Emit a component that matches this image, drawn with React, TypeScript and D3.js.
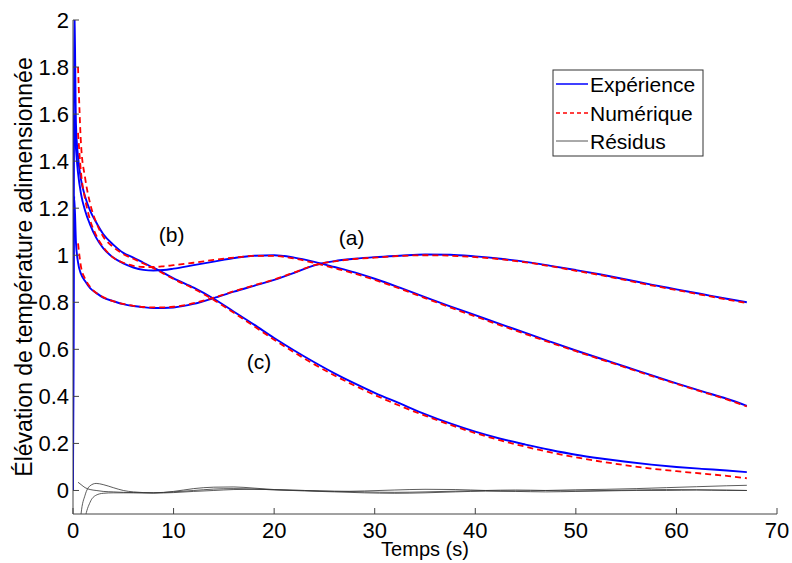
import React from "react";
import * as d3 from "d3";

// ---- data ----
const tExp = [0, 0.12, 0.3, 0.5, 0.8, 1.2, 1.7, 2.3, 3, 4, 5, 6, 7, 8, 9, 10, 12, 14, 16, 18, 20, 22, 24, 26, 28, 30, 32.5, 35, 37.5, 40, 42.5, 45, 47.5, 50, 52.5, 55, 57.5, 60, 62.5, 65, 67];
const expA = [0, 1.25, 1.05, 0.97, 0.92, 0.89, 0.86, 0.84, 0.82, 0.805, 0.792, 0.784, 0.779, 0.776, 0.776, 0.778, 0.793, 0.818, 0.845, 0.87, 0.895, 0.925, 0.957, 0.975, 0.985, 0.992, 0.998, 1.003, 1.002, 0.995, 0.985, 0.972, 0.955, 0.937, 0.918, 0.897, 0.875, 0.855, 0.835, 0.815, 0.8];
const expB = [0, 1.6, 1.45, 1.35, 1.26, 1.19, 1.13, 1.075, 1.03, 0.99, 0.965, 0.948, 0.938, 0.935, 0.937, 0.943, 0.958, 0.973, 0.988, 0.998, 1.0, 0.99, 0.972, 0.95, 0.927, 0.9, 0.862, 0.822, 0.783, 0.745, 0.707, 0.67, 0.632, 0.595, 0.56, 0.525, 0.49, 0.455, 0.422, 0.39, 0.36];
const expC = [0, 2.1, 1.55, 1.42, 1.32, 1.25, 1.19, 1.14, 1.09, 1.045, 1.01, 0.99, 0.968, 0.947, 0.925, 0.902, 0.862, 0.815, 0.76, 0.705, 0.648, 0.595, 0.545, 0.498, 0.455, 0.415, 0.37, 0.325, 0.285, 0.25, 0.22, 0.195, 0.172, 0.152, 0.136, 0.122, 0.11, 0.1, 0.092, 0.085, 0.078];

const tNum = [0.5, 0.8, 1.2, 1.7, 2.3, 3, 4, 5, 6, 7, 8, 9, 10, 12, 14, 16, 18, 20, 22, 24, 26, 28, 30, 32.5, 35, 37.5, 40, 42.5, 45, 47.5, 50, 52.5, 55, 57.5, 60, 62.5, 65, 67];
const numA = [1.05, 0.95, 0.9, 0.865, 0.84, 0.822, 0.805, 0.793, 0.785, 0.78, 0.778, 0.778, 0.781, 0.796, 0.82, 0.847, 0.872, 0.897, 0.927, 0.958, 0.974, 0.984, 0.99, 0.997, 1.0, 0.998, 0.992, 0.983, 0.97, 0.953, 0.934, 0.915, 0.894, 0.872, 0.852, 0.832, 0.812, 0.797];
const numB = [1.52, 1.35, 1.24, 1.15, 1.085, 1.035, 0.99, 0.968, 0.955, 0.95, 0.95, 0.953, 0.958, 0.968, 0.98, 0.99, 0.997, 0.997, 0.986, 0.967, 0.945, 0.922, 0.895, 0.858, 0.818, 0.778, 0.74, 0.702, 0.665, 0.628, 0.592, 0.557, 0.522, 0.487, 0.453, 0.42, 0.387, 0.357];
const numC = [1.8, 1.47, 1.33, 1.22, 1.14, 1.08, 1.035, 1.005, 0.985, 0.965, 0.945, 0.922, 0.899, 0.858, 0.81, 0.755, 0.698, 0.641, 0.587, 0.536, 0.489, 0.446, 0.406, 0.36, 0.318, 0.279, 0.244, 0.213, 0.186, 0.162, 0.141, 0.123, 0.107, 0.093, 0.082, 0.072, 0.062, 0.052];

const tRes = [0.5, 0.8, 1.2, 1.7, 2.3, 3, 4, 5, 6, 8, 10, 12, 14, 16, 18, 20, 23, 26, 29, 32, 35, 38, 41, 44, 47, 50, 53, 56, 59, 62, 65, 67];
const resA = [0.035, 0.025, 0.012, 0.004, 0.0, -0.004, -0.006, -0.008, -0.009, -0.01, -0.006, 0.0, 0.006, 0.008, 0.006, 0.003, 0.0, -0.003, -0.006, -0.008, -0.006, -0.003, 0.0, 0.002, 0.0, -0.002, 0.0, 0.002, 0.004, 0.003, 0.002, 0.0];
const resB = [-0.3, -0.1, -0.02, 0.02, 0.03, 0.025, 0.012, 0.0, -0.006, -0.01, -0.004, 0.008, 0.014, 0.015, 0.01, 0.004, 0.0, -0.004, -0.002, 0.002, 0.005, 0.004, 0.0, -0.002, 0.0, 0.003, 0.005, 0.008, 0.012, 0.016, 0.02, 0.022];
const resC = [-0.5, -0.25, -0.12, -0.05, -0.02, -0.012, -0.01, -0.01, -0.01, -0.011, -0.009, -0.004, 0.0, 0.004, 0.005, 0.003, -0.002, -0.006, -0.01, -0.012, -0.01, -0.006, -0.003, -0.004, -0.006, -0.004, -0.002, 0.0, 0.0, 0.002, 0.0, 0.0];

const xTicks = [0, 10, 20, 30, 40, 50, 60, 70];
const yTicks = [0, 0.2, 0.4, 0.6, 0.8, 1, 1.2, 1.4, 1.6, 1.8, 2];
const legendLabels = ["Expérience", "Numérique", "Résidus"];
const curveLabels = [
  { text: "(a)", t: 27.7, v: 1.045 },
  { text: "(b)", t: 9.8, v: 1.055 },
  { text: "(c)", t: 18.5, v: 0.517 },
];

const W = 792, H = 563;
const M = { left: 73, right: 777, top: 20, bottom: 514 };
const FONT = "'Liberation Sans', Arial, Helvetica, sans-serif";

export default function App() {
  const x = d3.scaleLinear().domain([0, 70]).range([M.left, M.right]);
  const y = d3.scaleLinear().domain([-0.1, 2]).range([M.bottom, M.top]);
  const mk = (ts: number[], vs: number[]) =>
    d3.line<number>().x((_, i) => x(ts[i])).y((v) => y(v)).curve(d3.curveMonotoneX)(vs) || "";

  const exps = [expA, expB, expC];
  const nums = [numA, numB, numC];
  const ress = [resA, resB, resC];

  const lx0 = 553, ly0 = 70, lw = 150, lh = 86;
  const rowY = [84, 113, 141];

  return (
    <svg width={W} height={H} style={{ display: "block", position: "absolute", left: 0, top: 0, background: "#fff" }} fontFamily={FONT}>
      <defs>
        <clipPath id="plotclip">
          <rect x={M.left} y={M.top} width={M.right - M.left} height={M.bottom - M.top} />
        </clipPath>
      </defs>
      <rect x={0} y={0} width={W} height={H} fill="#fff" />
      <g clipPath="url(#plotclip)">
        {ress.map((r, i) => (
          <path key={"r" + i} d={mk(tRes, r)} fill="none" stroke="#333" strokeWidth={0.8} />
        ))}
        {exps.map((e, i) => (
          <path key={"e" + i} d={mk(tExp, e)} fill="none" stroke="#0000ff" strokeWidth={1.9} />
        ))}
        {nums.map((n, i) => (
          <path key={"n" + i} d={mk(tNum, n)} fill="none" stroke="#ff0000" strokeWidth={1.8} strokeDasharray="6,4" />
        ))}
      </g>
      {/* axes */}
      <line x1={M.left} x2={M.left} y1={M.top} y2={M.bottom} stroke="#444" strokeWidth={1} />
      <line x1={M.left} x2={M.right} y1={M.bottom} y2={M.bottom} stroke="#444" strokeWidth={1} />
      {yTicks.map((t) => (
        <g key={"yt" + t}>
          <line x1={M.left} x2={M.left + 6} y1={y(t)} y2={y(t)} stroke="#444" />
          <text x={M.left - 4} y={y(t)} dy="0.36em" textAnchor="end" fontSize={22} fill="#000">{String(t)}</text>
        </g>
      ))}
      {xTicks.map((t) => (
        <g key={"xt" + t}>
          <line x1={x(t)} x2={x(t)} y1={M.bottom} y2={M.bottom - 6} stroke="#444" />
          <text x={x(t)} y={538} textAnchor="middle" fontSize={22} fill="#000">{String(t)}</text>
        </g>
      ))}
      <text x={(M.left + M.right) / 2} y={556} textAnchor="middle" fontSize={20} fill="#000">Temps (s)</text>
      <text transform={`translate(32,267) rotate(-90)`} textAnchor="middle" fontSize={23} fill="#000">
        Élévation de température adimensionnée
      </text>
      {curveLabels.map((c) => (
        <text key={c.text} x={x(c.t)} y={y(c.v)} textAnchor="middle" fontSize={21} fill="#000">{c.text}</text>
      ))}
      {/* legend */}
      <rect x={lx0} y={ly0} width={lw} height={lh} fill="#fff" stroke="#333" strokeWidth={1} />
      <line x1={556} x2={588} y1={rowY[0]} y2={rowY[0]} stroke="#0000ff" strokeWidth={1.5} />
      <line x1={556} x2={588} y1={rowY[1]} y2={rowY[1]} stroke="#ff0000" strokeWidth={1.5} strokeDasharray="4,3" />
      <line x1={556} x2={588} y1={rowY[2]} y2={rowY[2]} stroke="#555" strokeWidth={1} />
      {legendLabels.map((l, i) => (
        <text key={l} x={590} y={rowY[i]} dy="0.36em" fontSize={21} fill="#000">{l}</text>
      ))}
    </svg>
  );
}
